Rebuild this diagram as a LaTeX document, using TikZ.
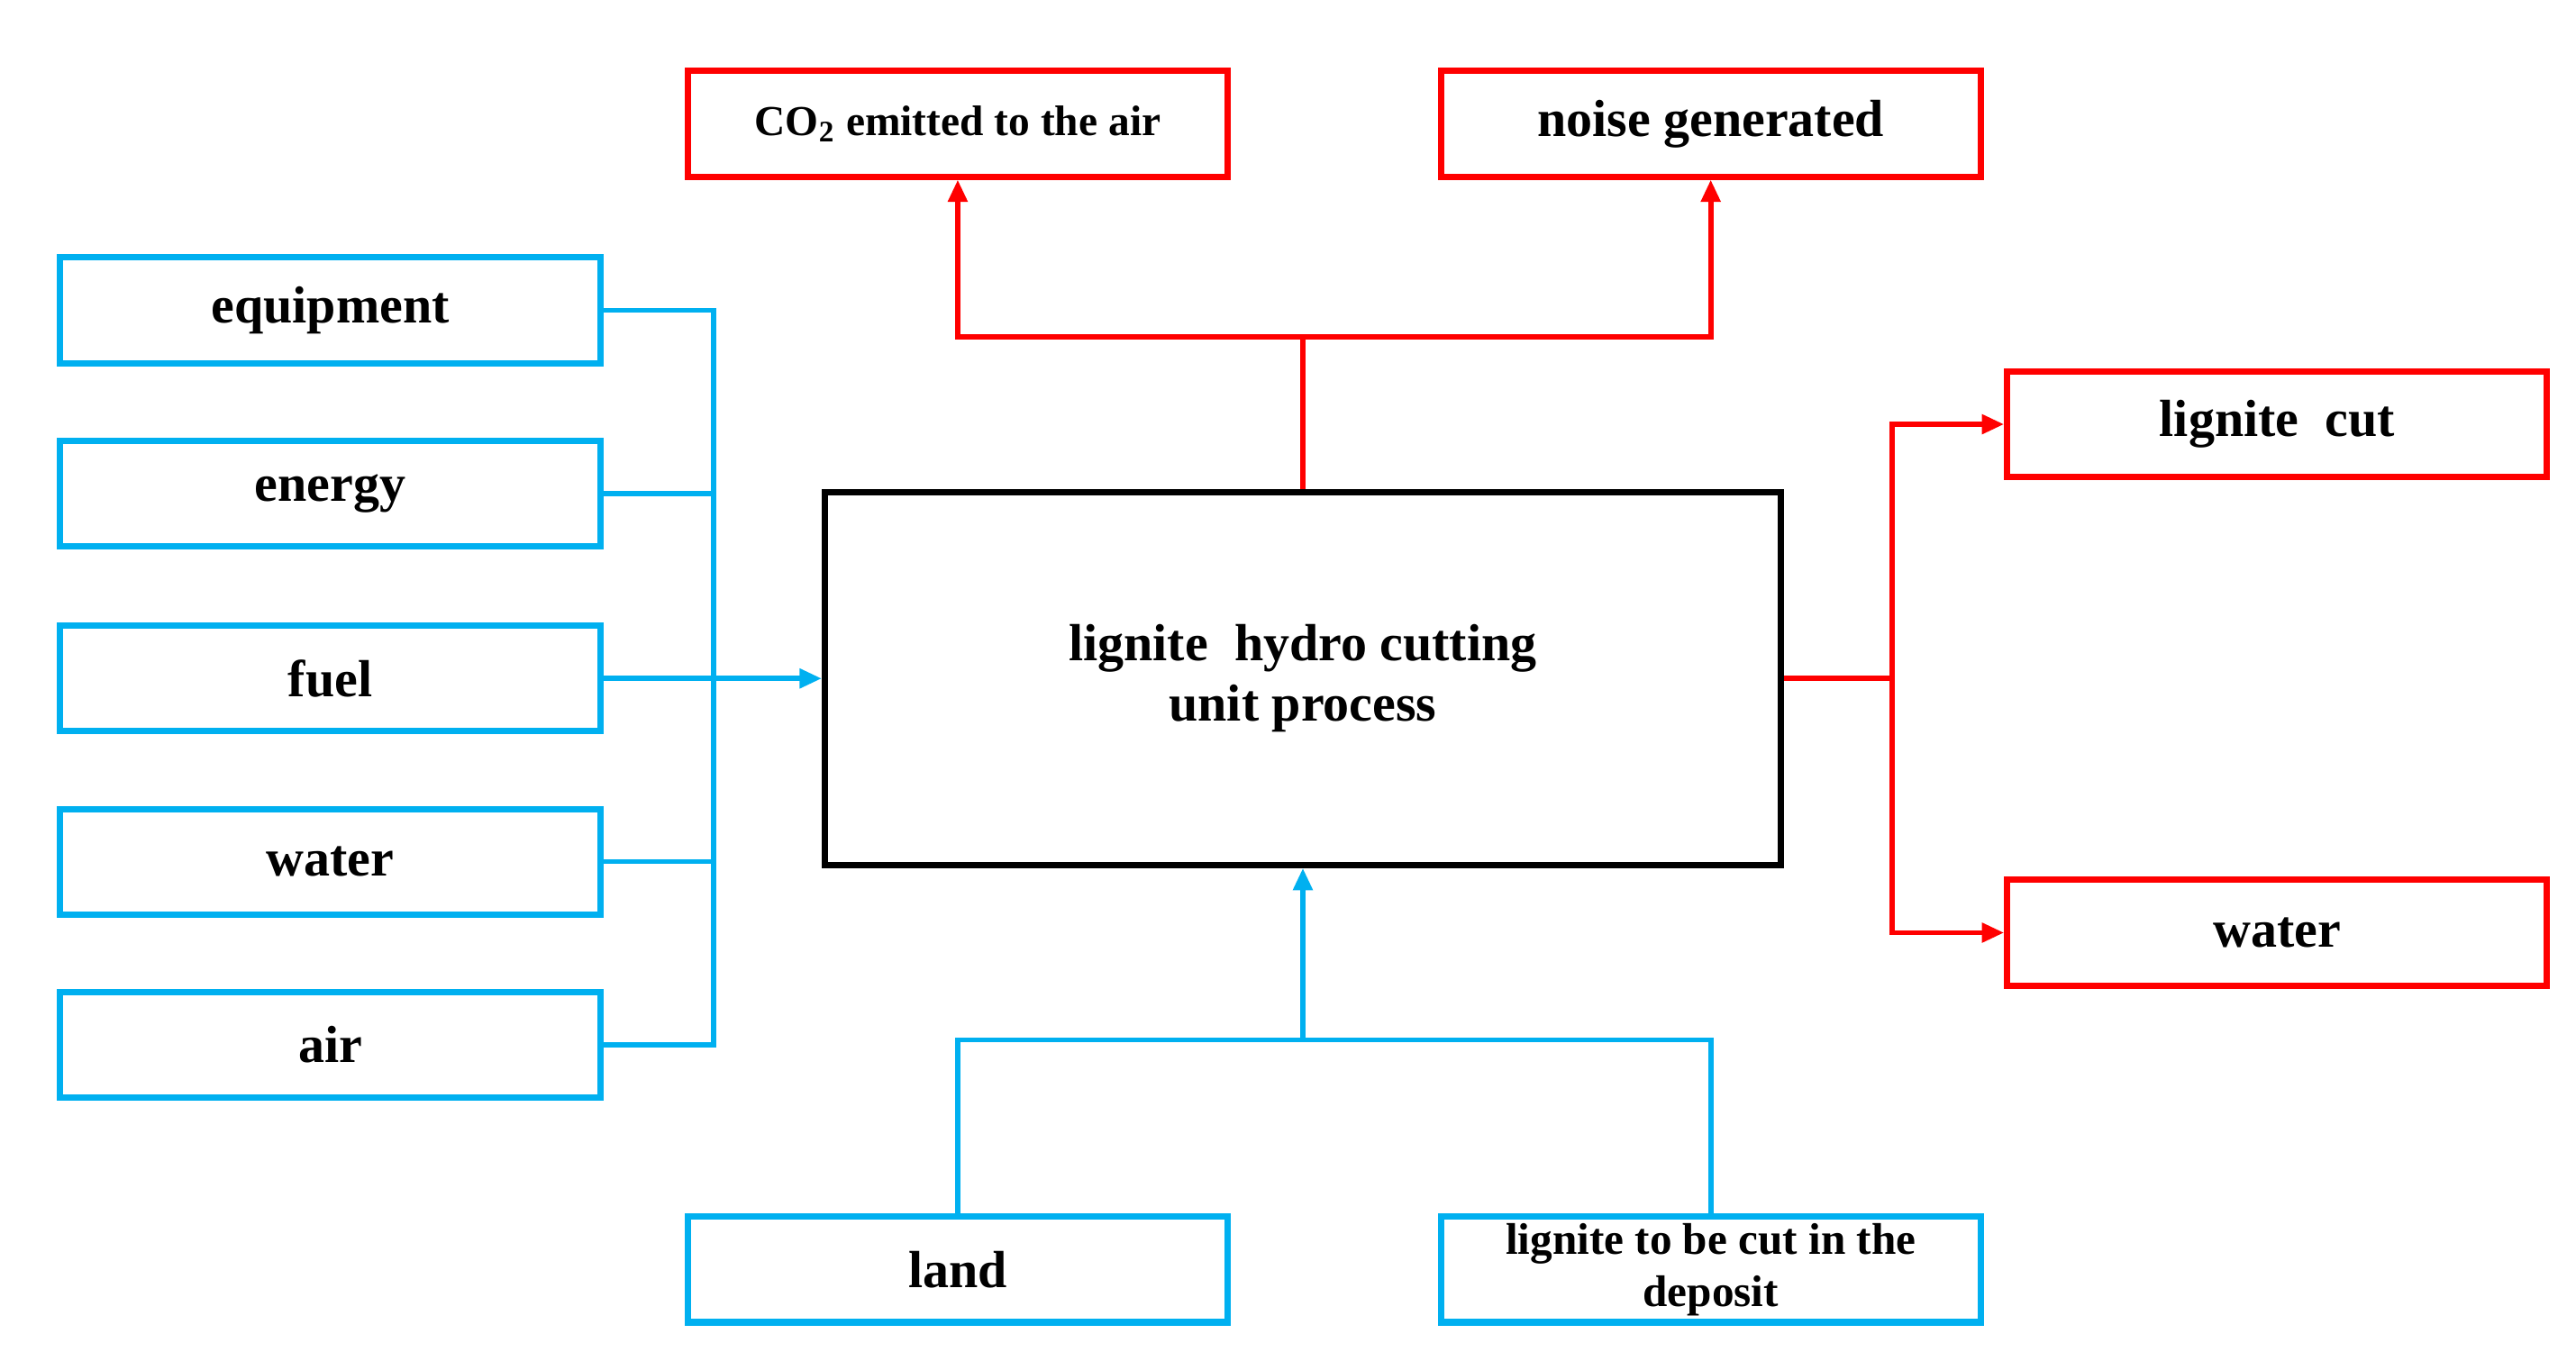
\documentclass[tikz,border=0pt]{standalone}
\usepackage{fontspec}
\setmainfont{Liberation Serif}
\usetikzlibrary{arrows.meta}
\definecolor{cb}{RGB}{0,176,240}
\definecolor{cr}{RGB}{255,0,0}
\begin{document}
\begin{tikzpicture}[x=0.01833cm,y=-0.01833cm,
  bx/.style={draw,line width=2pt,minimum width=327*0.01833cm,minimum height=64*0.01833cm,align=center,font=\fontsize{16.5}{19}\selectfont\bfseries,inner sep=0pt},
  ib/.style={bx,draw=cb},
  ob/.style={bx,draw=cr},
  bl/.style={cb,line width=1.6pt},
  rl/.style={cr,line width=1.6pt},
  tip/.style={-{Triangle[length=7pt,width=6pt]}}]
\useasboundingbox (0,0) rectangle (1560,819);
\node[ib] (eq) at (200,188) {equipment};
\node[ib] (en) at (200,299) {energy};
\node[ib] (fu) at (200,411) {fuel};
\node[ib] (wa) at (200,522) {water};
\node[ib] (ai) at (200,633) {air};
\node[draw,line width=2pt,minimum width=579*0.01833cm,minimum height=226*0.01833cm,align=center,font=\fontsize{16.5}{19}\selectfont\bfseries] (m) at (789,411) {lignite\ \ hydro cutting\\unit process};
\node[ob,font=\fontsize{13.5}{16}\selectfont\bfseries] (co) at (580,75) {CO\textsubscript{2} emitted to the air};
\node[ob] (no) at (1036,75) {noise generated};
\node[ob] (lc) at (1379,257) {lignite\ \ cut};
\node[ob] (wo) at (1379,565) {water};
\node[ib] (la) at (580,769) {land};
\node[ib,font=\fontsize{14}{16.5}\selectfont\bfseries] (lg) at (1036,769) {lignite to be cut in the\\deposit};
\coordinate (bx) at (432,411);
\draw[bl] (eq.east) -| (bx);
\draw[bl] (en.east) -| (bx);
\draw[bl] (wa.east) -| (bx);
\draw[bl] (ai.east) -| (bx);
\draw[bl,tip] (fu.east) -- (m.west);
\coordinate (tj) at (789,204);
\draw[rl] (m.north) -- (tj);
\draw[rl,tip] (tj) -| (co.south);
\draw[rl,tip] (tj) -| (no.south);
\coordinate (rj) at (1146,411);
\draw[rl] (m.east) -- (rj);
\draw[rl,tip] (rj) |- (lc.west);
\draw[rl,tip] (rj) |- (wo.west);
\coordinate (bj) at (789,630);
\draw[bl] (la.north) |- (bj);
\draw[bl] (lg.north) |- (bj);
\draw[bl,tip] (bj) -- (m.south);
\end{tikzpicture}
\end{document}
